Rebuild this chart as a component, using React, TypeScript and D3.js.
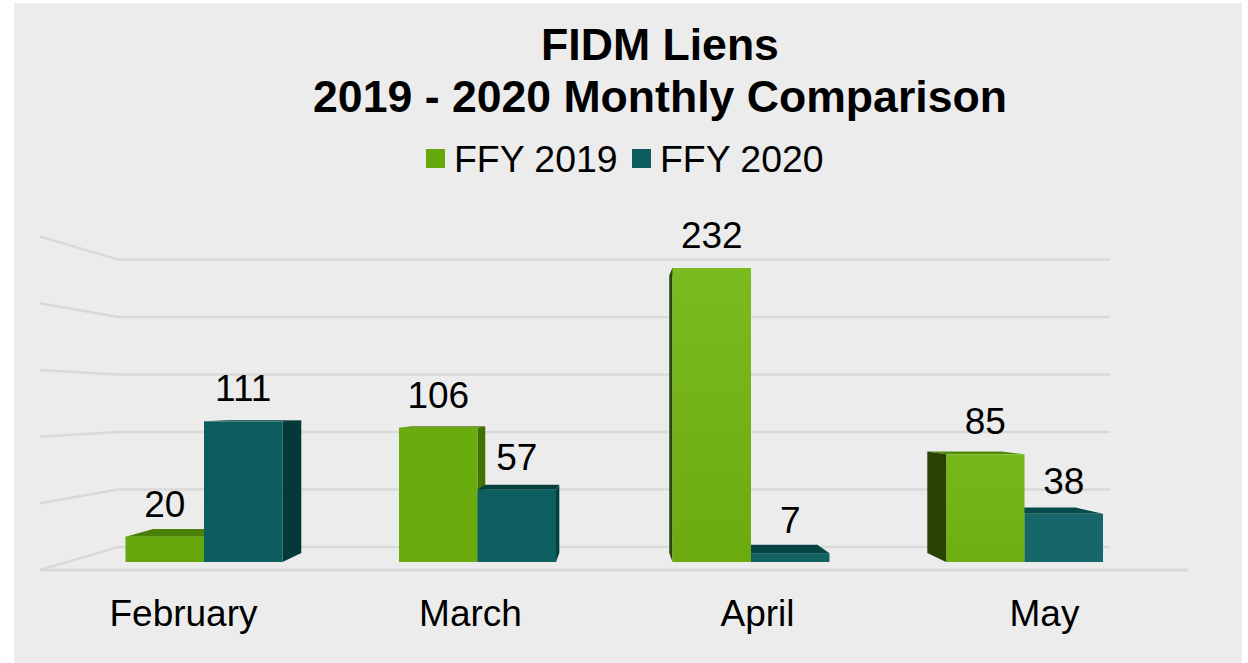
import * as React from 'react';
import * as d3 from 'd3';

const months = ['February', 'March', 'April', 'May'];
const seriesNames = ['FFY 2019', 'FFY 2020'];
const ffy2019 = [20, 106, 232, 85];
const ffy2020 = [111, 57, 7, 38];
const wallTicks = [0, 50, 100, 150, 200, 250];
const titleLines = ['FIDM Liens', '2019 - 2020 Monthly Comparison'];

// per month shading: [front top, front bottom, top face, side face]
const greenShades = [
  ['#67a90b', '#65a60a', '#4c7f05', '#4c7f05'],
  ['#6aab0e', '#68a90c', '#4f8506', '#436f05'],
  ['#7abb20', '#6cab0f', '#4f8506', '#2a4505'],
  ['#76b81c', '#6eae12', '#4f8a0a', '#294204'],
];
const tealShades = [
  ['#0d5c5e', '#0d5e60', '#04403f', '#04383a'],
  ['#0f5e60', '#0e5f60', '#053f3e', '#04403f'],
  ['#126163', '#126163', '#064543', '#064543'],
  ['#176669', '#176669', '#064a4a', '#064a4a'],
];

const vanishX = 615;
const vanishY = 403;
const depth = 0.0565;
const font = '"Liberation Sans", Arial, sans-serif';

const backX = (x: number) => x - (x - vanishX) * depth;
const backY = (y: number) => y - (y - vanishY) * depth;

export default function App() {
  const baseY = 562;
  const y = d3.scaleLinear().domain([0, 232]).range([baseY, 268]);
  const wallY = d3.scaleLinear().domain([0, 250]).range([547, 259.5]);
  const xLabel = d3.scaleBand().domain(months).range([40, 1188]);
  const xGroup = d3.scaleBand().domain(months).range([125.5, 1103]).paddingInner(0.426).paddingOuter(0);
  const xSeries = d3.scaleBand().domain(seriesNames).range([0, xGroup.bandwidth()]);
  const wallLine = d3.line();
  const poly = d3.line();

  const bars = months.flatMap((m, i) =>
    seriesNames.map((s, j) => {
      const value = (j === 0 ? ffy2019 : ffy2020)[i];
      const x0 = xGroup(m)! + xSeries(s)!;
      const x1 = x0 + xSeries.bandwidth();
      const shades = (j === 0 ? greenShades : tealShades)[i];
      return { id: `${i}-${j}`, value, x0, x1, shades, top: y(value) };
    })
  );
  // farther from the vanishing point goes first
  const ordered = [...bars].sort(
    (a, b) => Math.abs(b.x0 + b.x1 - 2 * vanishX) - Math.abs(a.x0 + a.x1 - 2 * vanishX)
  );

  return (
    <svg width={1248} height={663} style={{ position: 'absolute', left: 0, top: 0 }} fontFamily={font}>
      <defs>
        {bars.map(b => (
          <linearGradient key={b.id} id={`front-${b.id}`} x1="0" y1="0" x2="0" y2="1">
            <stop offset="0%" stopColor={b.shades[0]} />
            <stop offset="100%" stopColor={b.shades[1]} />
          </linearGradient>
        ))}
      </defs>
      <rect x={14} y={3} width={1228} height={660} fill="#ececec" />

      {titleLines.map((t, i) => (
        <text key={t} x={660} y={60 + i * 52} textAnchor="middle" fontSize={44.6} fontWeight="bold" fill="#000">
          {t}
        </text>
      ))}

      {seriesNames.map((s, i) => (
        <g key={s}>
          <rect x={426 + i * 206} y={149} width={19} height={19} fill={i === 0 ? '#66a80a' : '#0b5c5d'} />
          <text x={454 + i * 206} y={172} fontSize={37.4} fill="#000">{s}</text>
        </g>
      ))}

      {wallTicks.map(t => {
        const yy = wallY(t);
        return (
          <path
            key={t}
            d={wallLine([[40, yy + (yy - vanishY) * 0.16], [118, yy], [1110, yy]])!}
            fill="none"
            stroke="#d9d9d9"
            strokeWidth={2.5}
          />
        );
      })}
      <line x1={40} x2={1188} y1={570} y2={570} stroke="#d9d9d9" strokeWidth={3} />

      {ordered.map(b => {
        const sideX = b.x1 < vanishX ? b.x1 : b.x0;
        return (
          <g key={b.id}>
            <path
              d={poly([[b.x0, b.top], [backX(b.x0), backY(b.top)], [backX(b.x1), backY(b.top)], [b.x1, b.top]])! + 'Z'}
              fill={b.shades[2]}
            />
            <path
              d={poly([[sideX, b.top], [backX(sideX), backY(b.top)], [backX(sideX), backY(baseY)], [sideX, baseY]])! + 'Z'}
              fill={b.shades[3]}
            />
            <rect x={b.x0} y={b.top} width={b.x1 - b.x0} height={baseY - b.top} fill={`url(#front-${b.id})`} />
          </g>
        );
      })}

      {bars.map(b => (
        <text key={b.id} x={(b.x0 + b.x1) / 2} y={b.top - 20} textAnchor="middle" fontSize={37} fill="#000">
          {b.value}
        </text>
      ))}

      {months.map(m => (
        <text key={m} x={xLabel(m)! + xLabel.bandwidth() / 2} y={626} textAnchor="middle" fontSize={37} fill="#000">
          {m}
        </text>
      ))}
    </svg>
  );
}
